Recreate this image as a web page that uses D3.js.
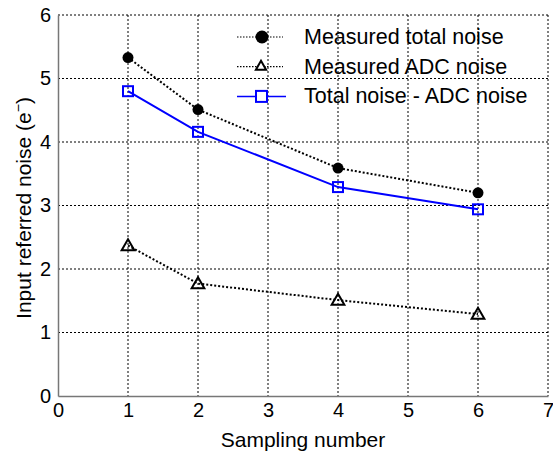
<!DOCTYPE html>
<html>
<head>
<meta charset="utf-8">
<script src="https://d3js.org/d3.v7.min.js"></script>
<style>
  body { margin: 0; background: #fff; }
  svg { font-family: "Liberation Sans", Arial, sans-serif; }
  .grid line { stroke: #000; stroke-width: 1; stroke-dasharray: 2,2; }
</style>
</head>
<body>
<svg id="chart"></svg>
<script>
// sampling numbers on x
var samples = [1, 2, 4, 6];
// measured total noise
var totalNoise = [5.33, 4.51, 3.59, 3.20];
// measured ADC noise
var adcNoise = [2.37, 1.77, 1.51, 1.29];
// total noise - ADC noise
var diffNoise = [4.80, 4.16, 3.29, 2.94];

var xTicks = [0, 1, 2, 3, 4, 5, 6, 7];
var yTicks = [0, 1, 2, 3, 4, 5, 6];
var legendLabels = ["Measured total noise", "Measured ADC noise", "Total noise - ADC noise"];

var screen = {width: 553, height: 454};
var margins = {left: 58, right: 5, top: 15, bottom: 58};
var graph = {
  width: screen.width - margins.left - margins.right,
  height: screen.height - margins.top - margins.bottom
};

var svg = d3.select("#chart")
  .attr("width", screen.width)
  .attr("height", screen.height);

var xScale = d3.scaleLinear().domain([0, 7]).range([0, graph.width]);
var yScale = d3.scaleLinear().domain([0, 6]).range([graph.height, 0]);

var target = svg.append("g")
  .attr("transform", "translate(" + margins.left + "," + margins.top + ")");

// grid
var grid = target.append("g").classed("grid", true);
grid.selectAll(".vx").data(xTicks.filter(function(d) { return d > 0; }))
  .enter().append("line")
  .attr("x1", function(d) { return xScale(d); })
  .attr("x2", function(d) { return xScale(d); })
  .attr("y1", 0).attr("y2", graph.height);
grid.selectAll(".hy").data(yTicks.filter(function(d) { return d > 0; }))
  .enter().append("line")
  .attr("x1", 0).attr("x2", graph.width)
  .attr("y1", function(d) { return yScale(d); })
  .attr("y2", function(d) { return yScale(d); });

// axes
var xAxis = d3.axisBottom(xScale).tickValues(xTicks).tickFormat(d3.format("d"))
  .tickSize(0).tickPadding(7);
var yAxis = d3.axisLeft(yScale).tickValues(yTicks).tickFormat(d3.format("d"))
  .tickSize(0).tickPadding(7);

var gx = target.append("g")
  .attr("transform", "translate(0," + graph.height + ")")
  .call(xAxis);
var gy = target.append("g").call(yAxis);

[gx, gy].forEach(function(g) {
  g.attr("font-size", 20).attr("font-family", "'Liberation Sans', Arial, sans-serif");
  g.select(".domain").attr("stroke", "#777").attr("stroke-width", 1.5);
  g.selectAll("text").attr("fill", "#000");
});

// lines
var line = function(vals) {
  return d3.line()
    .x(function(d, i) { return xScale(samples[i]); })
    .y(function(d) { return yScale(d); })(vals);
};

target.append("path").attr("d", line(totalNoise))
  .attr("fill", "none").attr("stroke", "#000").attr("stroke-width", 2)
  .attr("stroke-dasharray", "2,2");
target.append("path").attr("d", line(adcNoise))
  .attr("fill", "none").attr("stroke", "#000").attr("stroke-width", 2)
  .attr("stroke-dasharray", "2,2");
target.append("path").attr("d", line(diffNoise))
  .attr("fill", "none").attr("stroke", "#0000ff").attr("stroke-width", 2);

var tri = d3.symbol().type(d3.symbolTriangle).size(70);

target.selectAll(".dot").data(totalNoise).enter().append("circle")
  .attr("cx", function(d, i) { return xScale(samples[i]); })
  .attr("cy", function(d) { return yScale(d); })
  .attr("r", 5.5).attr("fill", "#000");

target.selectAll(".tri").data(adcNoise).enter().append("path")
  .attr("d", tri)
  .attr("transform", function(d, i) { return "translate(" + xScale(samples[i]) + "," + (yScale(d) + 1) + ")"; })
  .attr("fill", "none").attr("stroke", "#000").attr("stroke-width", 2);

target.selectAll(".sq").data(diffNoise).enter().append("rect")
  .attr("x", function(d, i) { return xScale(samples[i]) - 5; })
  .attr("y", function(d) { return yScale(d) - 5; })
  .attr("width", 10).attr("height", 10)
  .attr("fill", "none").attr("stroke", "#0000ff").attr("stroke-width", 2);

// legend
var legend = svg.append("g").attr("transform", "translate(237,37)");
var rowGap = 29.7;
legendLabels.forEach(function(lab, i) {
  var row = legend.append("g").attr("transform", "translate(0," + (i * rowGap) + ")");
  var blue = i === 2;
  row.append("line").attr("x1", 0).attr("x2", blue ? 49 : 46)
    .attr("y1", 0).attr("y2", 0)
    .attr("stroke", blue ? "#0000ff" : "#000")
    .attr("stroke-width", blue ? 1.5 : 1.2)
    .attr("stroke-dasharray", blue ? null : "1.5,1.5");
  if (i === 0) {
    row.append("circle").attr("cx", 25).attr("cy", 0).attr("r", 6.5).attr("fill", "#000");
  } else if (i === 1) {
    row.append("path").attr("d", d3.symbol().type(d3.symbolTriangle).size(45))
      .attr("transform", "translate(24,0)")
      .attr("fill", "#fff").attr("stroke", "#000").attr("stroke-width", 2);
  } else {
    row.append("rect").attr("x", 19).attr("y", -5.5).attr("width", 11).attr("height", 11)
      .attr("fill", "#fff").attr("stroke", "#0000ff").attr("stroke-width", 2);
  }
  row.append("text").text(lab)
    .attr("x", 67).attr("y", 7)
    .attr("font-size", 21.5).attr("fill", "#000");
});

// axis labels
svg.append("text").text("Sampling number")
  .attr("x", margins.left + graph.width / 2)
  .attr("y", 447)
  .attr("text-anchor", "middle")
  .attr("font-size", 21);

var yl = svg.append("text")
  .attr("transform", "translate(31,208) rotate(-90)")
  .attr("text-anchor", "middle")
  .attr("font-size", 21);
yl.append("tspan").text("Input referred noise (e");
yl.append("tspan").text("−").attr("dy", -8).attr("font-size", 14);
yl.append("tspan").text(")").attr("dy", 8);
</script>
</body>
</html>
